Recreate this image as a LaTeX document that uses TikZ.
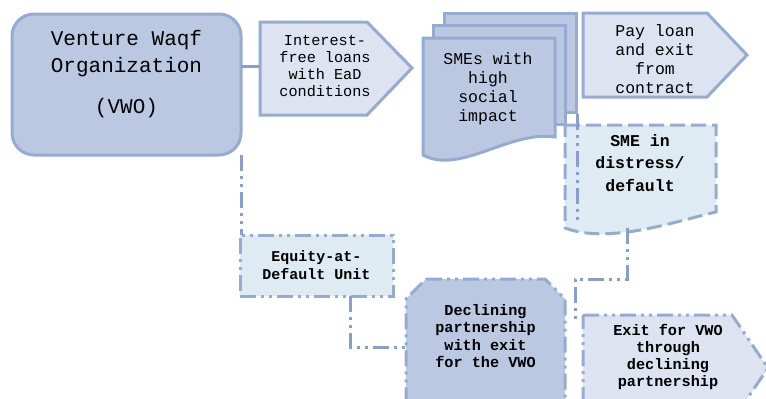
\documentclass[tikz,border=0pt]{standalone}
\usepackage{fontspec}
\setmonofont{Liberation Mono}
\usetikzlibrary{positioning}

\definecolor{boxline}{RGB}{150,171,212}
\definecolor{linkline}{RGB}{135,158,206}
\definecolor{darkfill}{RGB}{186,201,225}
\definecolor{lightfill}{RGB}{221,227,240}
\definecolor{paleblue}{RGB}{222,235,242}

\tikzset{
  ddot/.style={dash pattern=on 16pt off 5pt on 3pt off 5pt on 3pt off 5pt},
  link/.style={draw=linkline, line width=3pt, ddot},
  sheet/.style={draw=boxline, fill=darkfill, line width=3pt, minimum width=132pt, minimum height=99pt},
  txt/.style={align=center, text=black, outer sep=0pt, inner sep=2pt}
}

\begin{document}
\begin{tikzpicture}[x=1pt,y=-1pt,line width=3pt]

      \useasboundingbox (0,0) rectangle (766,399);

      % boxes
      \begin{scope}[color=boxline]
        \node[draw, fill=darkfill, rounded corners=22pt, minimum width=229pt, minimum height=141pt, outer sep=0pt] (1) at (126.5,84.5) {};
        \filldraw[fill=lightfill] (260,22) -- (367,22) -- (412,68) -- (367,115) -- (260,115) -- cycle;
        \node[sheet] (3c) at (510.5,62.5) {};
        \node[sheet] (3b) at (499,74.5) {};
        \filldraw[fill=darkfill] (423,38) -- (555,38) -- (555,137) .. controls (510,130) and (460,175) .. (423,155) -- cycle;
        \filldraw[fill=lightfill] (583,13) -- (707,13) -- (747,55) -- (707,97) -- (583,97) -- cycle;
        \filldraw[fill=paleblue, dash pattern=on 15pt off 6pt] (565,125) -- (716,125) -- (716,212) .. controls (680,220) and (610,245) .. (565,228) -- cycle;
        \filldraw[fill=darkfill, ddot] (426,279) -- (545,279) -- (565,299) -- (565,420) -- (406,420) -- (406,299) -- cycle;
        \filldraw[fill=lightfill, ddot] (583,315) -- (732,315) -- (768,368) -- (732,421) -- (583,421) -- cycle;
      \end{scope}

      % texts
      \begin{scope}[every node/.style={txt}]
        \node[font=\ttfamily\fontsize{21}{27}\selectfont] (1a) at (126.5,74) {Venture Waqf\\Organization\\[14pt](VWO)};
        \node[font=\ttfamily\fontsize{15.2}{17}\selectfont, minimum width=130pt] (2) at (325,66) {Interest-\\free loans\\with EaD\\conditions};
        \node[font=\ttfamily\fontsize{16.5}{19}\selectfont, minimum width=132pt] (3) at (488,89) {SMEs with\\high\\social\\impact};
        \node[font=\ttfamily\fontsize{16.5}{19}\selectfont] (4) at (655,59) {Pay loan\\and exit\\from\\contract};
        \node[font=\ttfamily\bfseries\fontsize{16.5}{22.5}\selectfont, minimum height=130pt] (5) at (640,163) {SME in\\distress/\\default};
        \node[draw=boxline, fill=paleblue, ddot, minimum width=153pt, minimum height=61pt,
              font=\ttfamily\bfseries\fontsize{15}{18}\selectfont] (6) at (316.5,265.5) {Equity-at-\\Default Unit};
        \node[font=\ttfamily\bfseries\fontsize{15.2}{17.5}\selectfont, minimum width=159pt] (7) at (485.5,336) {Declining\\partnership\\with exit\\for the VWO};
        \node[font=\ttfamily\bfseries\fontsize{15.2}{17}\selectfont, minimum width=170pt] (8) at (668,357) {Exit for VWO\\through\\declining\\partnership};
      \end{scope}

      % connectors
      \draw[link, solid] (1.east |- 2.west) -- (2.west);
      \draw[link] (1.south east) -- (1.south east |- 6.north);
      \draw[link] ([xshift=-1pt]3c.south east) -- ++(0,108);
      \draw[link] ([xshift=-13pt]5.south) -- ++(0,51) -| ([xshift=-8pt]8.north west);
      \draw[link] ([xshift=33.5pt]6.south) |- ([yshift=-11pt]7.west);

    \end{tikzpicture}
\end{document}
